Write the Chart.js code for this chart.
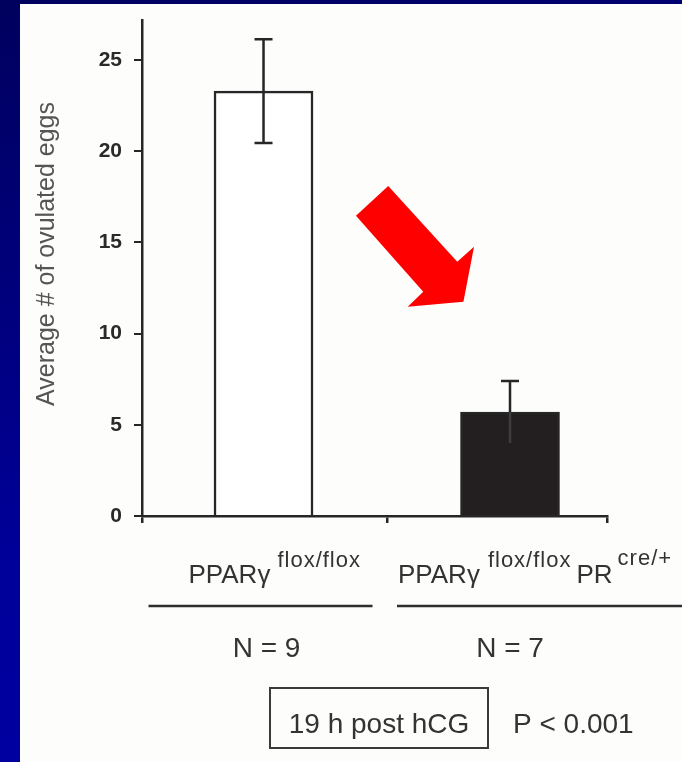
<!DOCTYPE html>
<html>
<head>
<meta charset="utf-8">
<script src="https://cdn.jsdelivr.net/npm/chart.js@4/dist/chart.umd.min.js"></script>
<style>
    html, body { margin: 0; padding: 0; width: 682px; height: 762px; overflow: hidden; }
    body { background: linear-gradient(165deg, #00005e 0%, #000080 35%, #00009a 60%, #0000a6 100%); position: relative; }
    #panel { position: absolute; left: 20px; top: 4px; width: 662px; height: 758px; background: #fdfdfc; }
    canvas { display: block; }
</style>
</head>
<body>
<div id="panel"><canvas id="chart" width="662" height="758"></canvas></div>
<script>
    const groupPositions = [1, 2];
    const means = [23.3, 5.7];
    const errors = [2.85, 1.7];
    const sampleSizes = [9, 7];
    const yTicks = [0, 5, 10, 15, 20, 25];
    const barFills = ['#ffffff', '#231f20'];
    // red arrow outline, in data units (x = group position, y = eggs)
    const arrowX = [1.506, 1.375, 1.648, 1.585, 1.811, 1.854, 1.786];
    const arrowY = [18.09, 16.46, 12.30, 11.47, 11.75, 14.76, 13.94];

    const X_MIN = 0.507;
    const X_MAX = 2.3935;
    const INK = '#262626';
    const TEXT = '#333333';

    function drawRuns(ctx, runs, x, baseY) {
        // runs: [text, fontSize, raise, gapAfter, spacing]
        runs.forEach(([text, size, raise, gap, spacing]) => {
            ctx.font = `${size}px "Liberation Sans", Arial, sans-serif`;
            ctx.letterSpacing = `${spacing || 0}px`;
            ctx.fillText(text, x, baseY - raise);
            x += ctx.measureText(text).width + gap;
        });
        ctx.letterSpacing = '0px';
    }

    const decorations = {
        id: 'decorations',
        afterDatasetsDraw(chart) {
            const ctx = chart.ctx;
            const xs = chart.scales.x;
            const ys = chart.scales.y;
            ctx.save();
            ctx.lineWidth = 2.5;
            means.forEach((m, i) => {
                const cx = xs.getPixelForValue(groupPositions[i]);
                const top = ys.getPixelForValue(m);
                const hi = ys.getPixelForValue(m + errors[i]);
                const lo = ys.getPixelForValue(m - errors[i]);
                const dark = barFills[i] !== '#ffffff';
                ctx.strokeStyle = INK;
                ctx.beginPath();
                ctx.moveTo(cx, top);
                ctx.lineTo(cx, hi);
                ctx.moveTo(cx - 9, hi);
                ctx.lineTo(cx + 9, hi);
                ctx.stroke();
                ctx.strokeStyle = dark ? '#3e3c3c' : INK;
                ctx.beginPath();
                ctx.moveTo(cx, top);
                ctx.lineTo(cx, lo);
                if (!dark) {
                    ctx.moveTo(cx - 9, lo);
                    ctx.lineTo(cx + 9, lo);
                }
                ctx.stroke();
            });

            // red arrow
            ctx.fillStyle = '#ff0000';
            ctx.beginPath();
            arrowX.forEach((v, i) => {
                const px = xs.getPixelForValue(v);
                const py = ys.getPixelForValue(arrowY[i]);
                if (i === 0) ctx.moveTo(px, py); else ctx.lineTo(px, py);
            });
            ctx.closePath();
            ctx.fill();
            ctx.restore();
        },
        afterDraw(chart) {
            const ctx = chart.ctx;
            const xs = chart.scales.x;
            const area = chart.chartArea;
            const c1 = xs.getPixelForValue(groupPositions[0]);
            const c2 = xs.getPixelForValue(groupPositions[1]);
            ctx.save();

            // y axis title
            ctx.fillStyle = '#555555';
            ctx.font = '25px "Liberation Sans", Arial, sans-serif';
            ctx.textAlign = 'center';
            ctx.textBaseline = 'alphabetic';
            ctx.translate(34, 250);
            ctx.rotate(-Math.PI / 2);
            ctx.fillText('Average # of ovulated eggs', 0, 0);
            ctx.setTransform(1, 0, 0, 1, 0, 0);

            // genotype labels
            ctx.fillStyle = TEXT;
            ctx.textAlign = 'left';
            const base = area.bottom + 67;
            drawRuns(ctx, [['PPARγ', 26, 0, 7], ['flox/flox', 22, 16, 0, 1]], c1 - 75, base);
            drawRuns(ctx, [['PPARγ', 26, 0, 8], ['flox/flox', 22, 16, 5, 1], ['PR', 26, 0, 5], ['cre/+', 22, 18, 0, 1]], c2 - 112, base);

            // underlines
            ctx.strokeStyle = '#2e2e2e';
            ctx.lineWidth = 2.5;
            ctx.beginPath();
            ctx.moveTo(c1 - 115, area.bottom + 90);
            ctx.lineTo(c1 + 109, area.bottom + 90);
            ctx.moveTo(c2 - 113, area.bottom + 90);
            ctx.lineTo(chart.width, area.bottom + 90);
            ctx.stroke();

            // sample sizes
            ctx.font = '28px "Liberation Sans", Arial, sans-serif';
            ctx.textAlign = 'center';
            ctx.fillText(`N = ${sampleSizes[0]}`, c1 + 3, area.bottom + 141);
            ctx.fillText(`N = ${sampleSizes[1]}`, c2, area.bottom + 141);

            // time point box and p value
            ctx.lineWidth = 2;
            ctx.strokeStyle = '#3a3a3a';
            ctx.strokeRect(250, area.bottom + 172, 218, 60);
            ctx.fillText('19 h post hCG', 359, area.bottom + 217);
            ctx.textAlign = 'left';
            ctx.fillText('P < 0.001', 493, area.bottom + 217);
            ctx.restore();
        },
    };

    new Chart(document.getElementById('chart'), {
        type: 'bar',
        data: {
            datasets: [{
                data: means.map((m, i) => ({ x: groupPositions[i], y: m })),
                backgroundColor: barFills,
                borderColor: INK,
                borderWidth: 2.5,
                borderSkipped: 'start',
                barThickness: 99,
            }],
        },
        options: {
            responsive: false,
            animation: false,
            events: [],
            layout: { padding: { left: 0, top: 16, right: 75, bottom: 0 } },
            plugins: { legend: { display: false }, tooltip: { enabled: false } },
            scales: {
                x: {
                    type: 'linear',
                    offset: false,
                    min: X_MIN,
                    max: X_MAX,
                    afterFit: (scale) => { scale.height = 246; scale.paddingLeft = 0; scale.paddingRight = 0; },
                    afterBuildTicks: (scale) => { scale.ticks = [X_MIN, 1.5, X_MAX].map((v) => ({ value: v })); },
                    border: { display: true, color: INK, width: 2.5 },
                    grid: { drawOnChartArea: false, drawTicks: true, offset: false, tickLength: 7, color: INK, lineWidth: 2.5 },
                    ticks: { display: false },
                },
                y: {
                    min: 0,
                    max: 27.2,
                    afterFit: (scale) => { scale.width = 122; scale.paddingTop = 0; scale.paddingBottom = 0; },
                    afterBuildTicks: (scale) => { scale.ticks = yTicks.map((v) => ({ value: v })); },
                    border: { display: true, color: INK, width: 2.5 },
                    grid: { drawOnChartArea: false, drawTicks: true, tickLength: 8, color: INK, lineWidth: 2 },
                    ticks: {
                        color: '#2a2a2a',
                        padding: 12,
                        font: { family: '"Liberation Sans Narrow", "Liberation Sans", Arial, sans-serif', size: 21, weight: 'bold' },
                    },
                },
            },
        },
        plugins: [decorations],
    });
</script>
</body>
</html>
